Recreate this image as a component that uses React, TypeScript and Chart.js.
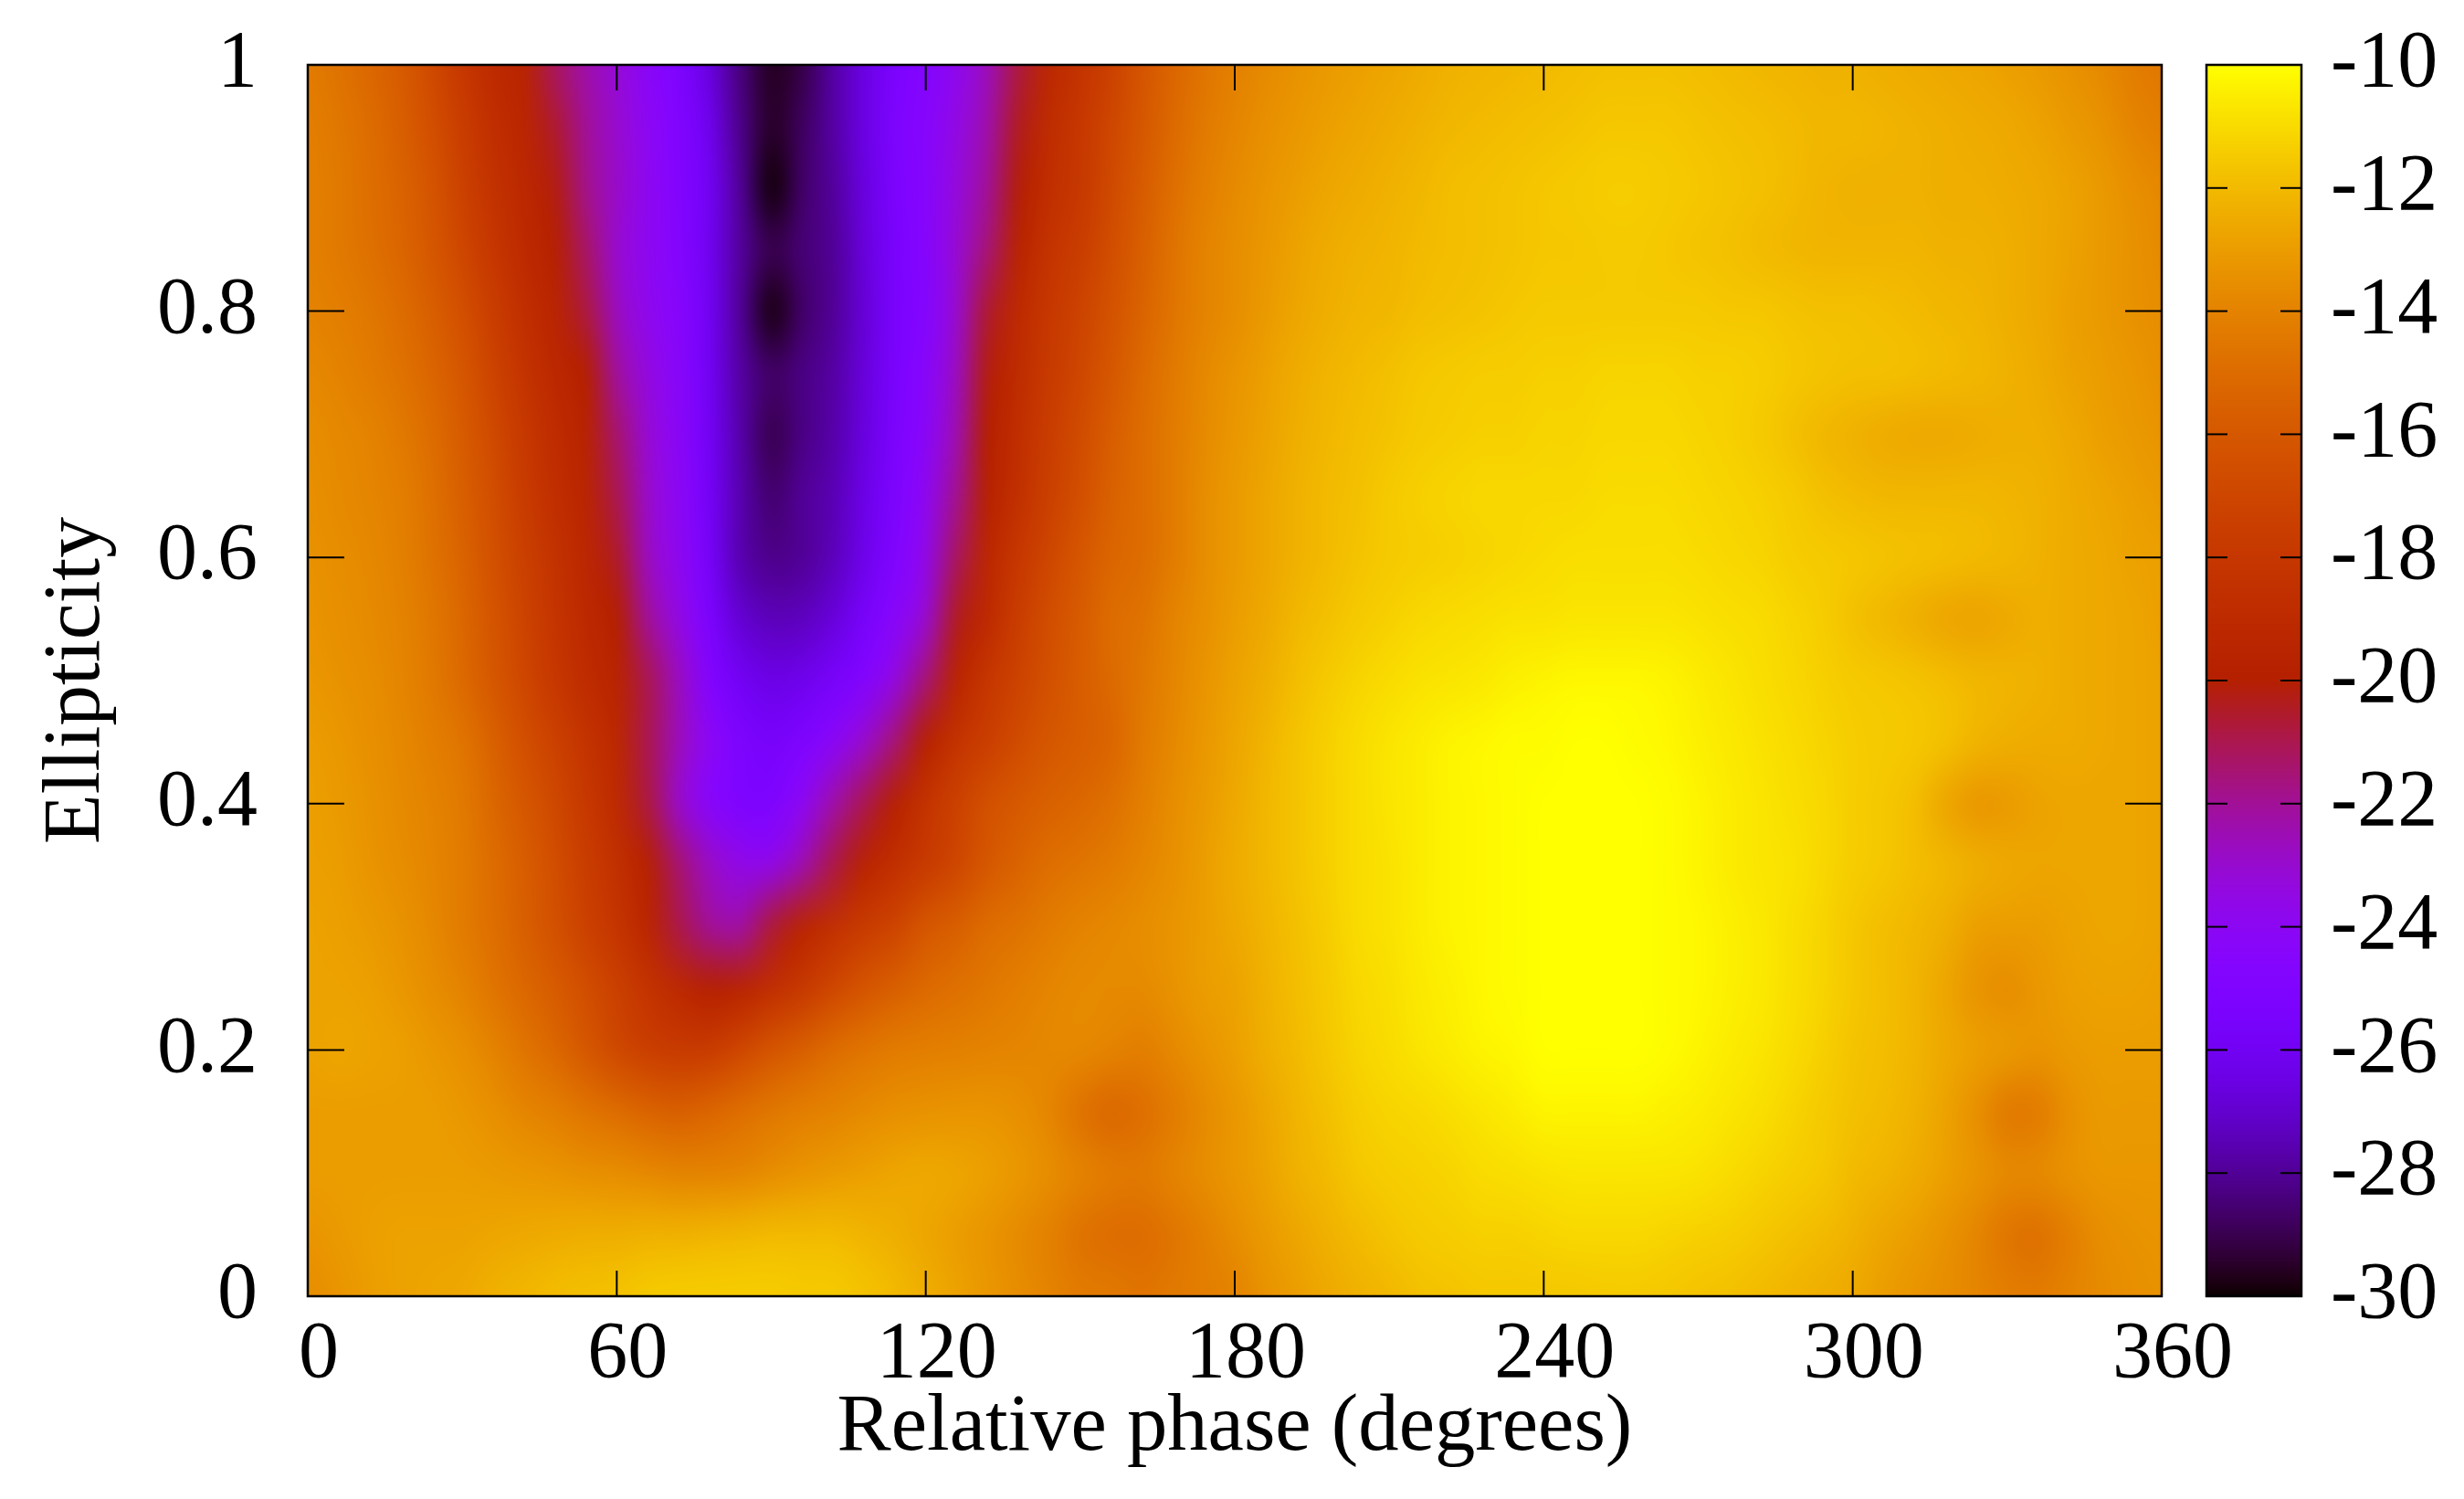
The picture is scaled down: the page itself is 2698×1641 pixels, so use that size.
import React, { useEffect, useRef } from 'react'
import { Chart, registerables } from 'chart.js'
import type { Plugin } from 'chart.js'

Chart.register(...registerables)

const phases = [
  0, 6, 12, 18, 24, 30, 36, 42, 48, 54, 60, 66, 72, 78, 84, 90, 96, 102, 108, 114,
  120, 126, 132, 138, 144, 150, 156, 162, 168, 174, 180, 186, 192, 198, 204, 210, 216, 222, 228, 234,
  240, 246, 252, 258, 264, 270, 276, 282, 288, 294, 300, 306, 312, 318, 324, 330, 336, 342, 348, 354, 360,
]
const ellipticities = [1, 0.95, 0.9, 0.85, 0.8, 0.75, 0.7, 0.65, 0.6, 0.55, 0.5, 0.45, 0.4, 0.35, 0.3, 0.25, 0.2, 0.15, 0.1, 0.05, 0]

// signal level per phase, one list per ellipticity
const e100 = [-14.3, -14.7, -15.2, -15.8, -16.8, -18, -19, -19.6, -21.2, -22.3, -23.2, -24.2, -25.1, -26.6, -28.4, -29.6, -29.1, -27.8, -26.5, -25.3, -24.7, -23.8, -22.6, -20.8, -19.2, -18.3, -17.3, -16.2, -15.3, -14.6, -14.1, -13.7, -13.4, -13.1, -12.9, -12.7, -12.5, -12.3, -12.2, -12.1, -12, -11.9, -11.8, -11.8, -11.8, -11.9, -12, -12.1, -12.2, -12.3, -12.3, -12.4, -12.5, -12.6, -12.7, -12.9, -13.1, -13.4, -13.7, -14.2, -14.5]
const e095 = [-14.2, -14.5, -15, -15.6, -16.5, -17.6, -18.7, -19.4, -20.6, -22, -23, -24, -24.9, -26.2, -28.2, -29.5, -28.8, -27.8, -26.5, -25.2, -24.5, -23.5, -22.3, -20.4, -18.9, -18, -17, -16, -15.1, -14.4, -13.9, -13.5, -13.2, -12.9, -12.7, -12.5, -12.3, -12.1, -12, -11.9, -11.8, -11.7, -11.6, -11.6, -11.6, -11.7, -11.8, -11.9, -12, -12.1, -12.1, -12.2, -12.3, -12.4, -12.5, -12.6, -12.8, -13.1, -13.4, -13.9, -14.2]
const e090 = [-14.1, -14.4, -14.9, -15.4, -16.2, -17.3, -18.4, -19.2, -20.2, -21.8, -22.9, -23.9, -24.8, -26, -28, -29.9, -28.7, -27.9, -26.6, -25.3, -24.5, -23.3, -22, -20.1, -18.7, -17.9, -16.8, -15.8, -14.9, -14.2, -13.7, -13.3, -13, -12.7, -12.5, -12.3, -12.1, -11.9, -11.8, -11.7, -11.6, -11.5, -11.4, -11.4, -11.5, -11.6, -11.7, -11.8, -12, -12.2, -12.3, -12.3, -12.3, -12.4, -12.4, -12.5, -12.6, -12.8, -13.1, -13.5, -13.8]
const e085 = [-14.1, -14.4, -14.8, -15.3, -16, -17, -18.1, -19, -19.9, -21.3, -23, -23.9, -24.7, -26.1, -27.9, -29, -28.5, -28, -26.7, -25.4, -24.6, -23.1, -21.5, -19.6, -18.3, -17.6, -16.6, -15.6, -14.7, -14, -13.6, -13.2, -12.8, -12.5, -12.3, -12.2, -12, -11.9, -11.8, -11.7, -11.6, -11.6, -11.5, -11.5, -11.6, -11.7, -11.8, -12, -12.1, -12.2, -12.2, -12.2, -12.2, -12.3, -12.3, -12.4, -12.6, -12.8, -13.1, -13.4, -13.7]
const e080 = [-14, -14.2, -14.5, -15, -15.6, -16.5, -17.6, -18.7, -19.5, -20.8, -22.7, -23.8, -24.5, -26, -28, -29.8, -28.7, -28, -26.8, -25.4, -24.7, -23, -20.6, -19, -18, -17.2, -16.3, -15.4, -14.6, -14, -13.6, -13.1, -12.7, -12.4, -12.2, -12.1, -11.9, -11.8, -11.7, -11.6, -11.5, -11.5, -11.5, -11.5, -11.5, -11.5, -11.6, -11.6, -11.7, -11.8, -11.8, -11.9, -12, -12.1, -12.2, -12.4, -12.6, -12.9, -13.1, -13.4, -13.6]
const e075 = [-13.8, -14, -14.3, -14.7, -15.3, -16.1, -17.2, -18.3, -19.2, -20, -22.1, -23.4, -24.4, -26, -27.8, -28.7, -28.3, -27.8, -26.7, -25.4, -24.4, -22.7, -20.2, -18.9, -17.8, -17, -16, -15.1, -14.4, -13.8, -13.3, -12.9, -12.5, -12.2, -12, -11.8, -11.6, -11.5, -11.4, -11.4, -11.3, -11.3, -11.2, -11.2, -11.2, -11.3, -11.3, -11.4, -11.6, -11.7, -11.8, -11.8, -11.9, -12, -12.1, -12.3, -12.5, -12.8, -13, -13.2, -13.5]
const e070 = [-13.6, -13.8, -14, -14.4, -15, -15.8, -16.8, -17.9, -18.9, -19.7, -21.4, -23.1, -24.2, -25.9, -27.7, -29, -28.3, -27.7, -26.6, -25.3, -24.2, -22.4, -20, -18.7, -17.6, -16.7, -15.7, -15, -14.3, -13.7, -13.2, -12.8, -12.4, -12.1, -11.9, -11.7, -11.5, -11.4, -11.3, -11.3, -11.2, -11.2, -11.1, -11.1, -11.1, -11.2, -11.3, -11.5, -11.8, -12.1, -12.3, -12.5, -12.6, -12.6, -12.5, -12.4, -12.4, -12.6, -12.9, -13.1, -13.3]
const e065 = [-13.5, -13.7, -13.9, -14.2, -14.8, -15.6, -16.6, -17.7, -18.7, -19.5, -21, -22.9, -24.1, -25.8, -27.6, -28.6, -28, -27.5, -26.4, -25.2, -23.9, -21.9, -19.8, -18.5, -17.4, -16.5, -15.5, -15, -14.3, -13.6, -13.1, -12.7, -12.3, -12, -11.8, -11.5, -11.3, -11.2, -11.1, -11.1, -11.1, -11.1, -11, -11, -11, -11.1, -11.2, -11.3, -11.5, -11.8, -12, -12.1, -12.1, -12.1, -12.1, -12.2, -12.3, -12.5, -12.7, -12.9, -13.1]
const e060 = [-13.4, -13.6, -13.8, -14.1, -14.7, -15.4, -16.4, -17.4, -18.4, -19.3, -20.5, -22.7, -23.9, -25.7, -27.6, -28.2, -28, -27.4, -26.3, -25, -23.6, -21.2, -19.3, -18, -17, -16.1, -15.3, -15, -14.3, -13.6, -13.1, -12.7, -12.3, -12, -11.7, -11.5, -11.4, -11.3, -11.2, -11.1, -11, -10.9, -10.9, -10.9, -10.9, -11, -11.1, -11.2, -11.4, -11.5, -11.6, -11.7, -11.8, -11.9, -12, -12.1, -12.3, -12.5, -12.6, -12.8, -12.9]
const e055 = [-13.3, -13.5, -13.7, -14, -14.5, -15.2, -16.2, -17.2, -18.2, -19.1, -20, -22, -23.5, -25.3, -26.9, -27.4, -27.3, -26.7, -25.6, -24.4, -23, -20.4, -19, -17.6, -16.6, -15.8, -15, -14.7, -14, -13.5, -13, -12.6, -12.1, -11.8, -11.5, -11.3, -11.1, -11, -10.9, -10.8, -10.8, -10.7, -10.7, -10.7, -10.7, -10.8, -10.9, -11, -11.2, -11.4, -11.8, -12.1, -12.4, -12.7, -12.8, -12.6, -12.4, -12.5, -12.6, -12.7, -12.9]
const e050 = [-13.2, -13.4, -13.6, -13.9, -14.4, -15.1, -16, -17, -18, -18.9, -19.6, -21, -22.7, -24.8, -25.9, -26.4, -26.2, -25.6, -24.8, -23.4, -21.5, -19.5, -18.1, -17.2, -16.4, -15.7, -15.1, -14.5, -13.9, -13.3, -12.8, -12.4, -11.9, -11.5, -11.2, -11, -10.8, -10.7, -10.6, -10.4, -10.3, -10.2, -10.2, -10.2, -10.3, -10.5, -10.7, -10.9, -11.1, -11.3, -11.5, -11.6, -11.7, -11.9, -12.1, -12.2, -12.3, -12.5, -12.6, -12.7, -12.8]
const e045 = [-13, -13.2, -13.5, -13.8, -14.2, -14.6, -15.5, -16.5, -17.3, -18.3, -19.2, -21, -22.6, -24.1, -25.2, -25.6, -25.1, -24.2, -23, -21.5, -19.8, -18.3, -17.5, -16.7, -16, -15.7, -15.3, -14.4, -13.8, -13.2, -12.7, -12.2, -11.7, -11.3, -11, -10.7, -10.5, -10.3, -10.2, -10.1, -10.1, -10, -10, -10.1, -10.2, -10.4, -10.6, -10.8, -11, -11.2, -11.4, -11.5, -11.6, -11.8, -12.2, -12.4, -12.5, -12.5, -12.6, -12.7, -12.8]
const e040 = [-12.9, -13.1, -13.4, -13.7, -14, -14.4, -15.2, -16, -16.9, -17.9, -19, -20.8, -22.9, -24.4, -25.1, -25.1, -24, -22.3, -21, -19.8, -18.3, -17.3, -16.4, -15.9, -15.5, -15.2, -14.8, -14.2, -13.6, -13.1, -12.6, -12.1, -11.7, -11.3, -11, -10.7, -10.5, -10.3, -10.2, -10.1, -10, -10, -10, -10, -10.1, -10.3, -10.5, -10.7, -10.9, -11.1, -11.4, -11.6, -11.9, -12.7, -13.2, -13.1, -12.8, -12.7, -12.7, -12.7, -12.8]
const e035 = [-12.9, -13, -13.3, -13.6, -13.9, -14.3, -15, -15.7, -16.6, -17.6, -18.5, -19.8, -21.4, -22.8, -23.6, -23.6, -22.4, -20.9, -19.6, -18.6, -17.8, -17, -16, -15.4, -14.9, -14.6, -14.3, -13.9, -13.5, -13, -12.5, -12.1, -11.7, -11.3, -11, -10.8, -10.5, -10.3, -10.2, -10.1, -10, -10, -10, -10, -10.1, -10.3, -10.5, -10.7, -10.8, -11.1, -11.4, -11.6, -11.9, -12.1, -12.4, -12.6, -12.7, -12.7, -12.7, -12.7, -12.8]
const e030 = [-12.8, -12.9, -13.1, -13.4, -13.8, -14.3, -14.9, -15.6, -16.4, -17.3, -18.2, -19.4, -20.9, -22, -22.2, -20.7, -19.5, -18.5, -17.7, -17.1, -16.1, -15.6, -15, -14.7, -14.3, -14, -13.8, -13.6, -13.3, -13, -12.6, -12.2, -11.8, -11.4, -11, -10.8, -10.5, -10.3, -10.2, -10.1, -10, -10, -10, -10, -10.1, -10.2, -10.4, -10.6, -10.9, -11.2, -11.6, -11.9, -12.1, -12.4, -12.9, -13, -13, -12.8, -12.7, -12.7, -12.8]
const e025 = [-12.8, -12.8, -12.9, -13.2, -13.6, -14, -14.6, -15.2, -15.8, -16.6, -17.4, -18.3, -19.1, -19.9, -19.6, -18.7, -17.9, -17, -16.2, -15.6, -15.1, -14.8, -14.5, -14.2, -13.9, -13.7, -13.7, -13.7, -13.4, -13, -12.8, -12.3, -11.9, -11.5, -11.1, -10.9, -10.6, -10.4, -10.2, -10.1, -10, -10, -10, -10, -10.1, -10.2, -10.4, -10.6, -10.9, -11.2, -11.6, -11.9, -12.2, -12.7, -13.3, -13.6, -13.2, -12.9, -12.8, -12.8, -12.9]
const e020 = [-12.8, -12.7, -12.8, -12.9, -13.2, -13.5, -14, -14.6, -15.2, -16, -16.9, -17.5, -17.8, -17.7, -17, -16.2, -15.6, -15, -14.6, -14.3, -14.2, -14.1, -14, -13.9, -13.8, -13.8, -14, -14.2, -13.8, -13.3, -12.9, -12.4, -12, -11.6, -11.2, -11, -10.7, -10.5, -10.3, -10.2, -10, -10, -10, -10, -10.1, -10.3, -10.5, -10.7, -11, -11.3, -11.7, -11.9, -12.2, -12.6, -12.9, -13.1, -13.3, -13.1, -13, -13, -13]
const e015 = [-13, -13, -13, -13, -13, -13.2, -13.5, -13.9, -14.2, -14.6, -15, -15.4, -15.6, -15.3, -14.9, -14.5, -14.2, -14, -13.7, -13.5, -13.4, -13.3, -13.3, -13.5, -13.9, -14.7, -15.2, -14.9, -14.3, -13.7, -13.2, -12.7, -12.2, -11.8, -11.4, -11.2, -11.1, -10.9, -10.7, -10.5, -10.3, -10.3, -10.3, -10.3, -10.4, -10.5, -10.7, -10.9, -11.2, -11.5, -11.8, -12, -12.3, -12.8, -13.5, -14.4, -14.3, -13.5, -13.1, -13.1, -13.1]
const e010 = [-13, -13, -13, -13, -13, -13, -13.1, -13.2, -13.3, -13.5, -13.6, -13.8, -14, -14, -13.9, -13.6, -13.3, -13.1, -12.9, -12.7, -12.6, -12.7, -12.9, -13.2, -13.6, -14, -14.3, -14.4, -14, -13.6, -13.2, -12.8, -12.3, -12, -11.6, -11.4, -11.3, -11.2, -11, -10.9, -10.8, -10.7, -10.7, -10.7, -10.7, -10.8, -11, -11.2, -11.4, -11.6, -12, -12.2, -12.5, -12.9, -13.3, -13.7, -13.7, -13.4, -13.2, -13.2, -13.2]
const e005 = [-13.3, -13.1, -12.9, -12.8, -12.8, -12.8, -12.7, -12.6, -12.5, -12.4, -12.4, -12.3, -12.3, -12.2, -12.1, -12, -12, -12, -12.2, -12.4, -12.7, -13, -13.3, -13.7, -14.1, -14.7, -15, -15, -14.6, -14.1, -13.6, -13.1, -12.7, -12.3, -12, -11.7, -11.5, -11.4, -11.3, -11.3, -11.2, -11.1, -11.1, -11.1, -11.2, -11.3, -11.4, -11.6, -11.8, -12, -12.3, -12.7, -13, -13.4, -13.9, -14.6, -14.8, -14.2, -13.6, -13.4, -13.3]
const e000 = [-13.6, -13.3, -13, -12.8, -12.7, -12.6, -12.3, -12.1, -11.9, -11.8, -11.7, -11.5, -11.4, -11.4, -11.4, -11.4, -11.5, -11.5, -11.7, -12, -12.4, -12.8, -13.2, -13.6, -14, -14.3, -14.4, -14.6, -14.4, -14.2, -14, -13.4, -13, -12.6, -12.3, -12.1, -11.8, -11.7, -11.6, -11.6, -11.6, -11.6, -11.5, -11.5, -11.6, -11.7, -11.8, -12, -12.2, -12.4, -12.6, -13, -13.3, -13.6, -13.9, -14.2, -14.3, -14, -13.7, -13.5, -13.4]
const levels = [e100, e095, e090, e085, e080, e075, e070, e065, e060, e055, e050, e045, e040, e035, e030, e025, e020, e015, e010, e005, e000]

const phaseTicks = [0, 60, 120, 180, 240, 300, 360]
const ellipticityTicks = [0, 0.2, 0.4, 0.6, 0.8, 1]
const levelTicks = [-30, -28, -26, -24, -22, -20, -18, -16, -14, -12, -10]

const FONT = '"Liberation Serif"'

// gnuplot's default pm3d palette (rgbformulae 7,5,15)
function palette(v: number): [number, number, number] {
  const t = Math.min(1, Math.max(0, (v + 30) / 20))
  return [
    Math.round(255 * Math.sqrt(t)),
    Math.round(255 * t * t * t),
    Math.round(255 * Math.max(0, Math.sin(2 * Math.PI * t))),
  ]
}

const heatmapPlugin: Plugin<'scatter'> = {
  id: 'heatmap',
  beforeDatasetsDraw(chart) {
    const { ctx, scales } = chart
    const x = scales.x
    const y = scales.y
    const off = document.createElement('canvas')
    off.width = phases.length
    off.height = ellipticities.length
    const octx = off.getContext('2d')!
    const img = octx.createImageData(off.width, off.height)
    levels.forEach((row, j) => {
      row.forEach((v, i) => {
        const [r, g, b] = palette(v)
        const k = (j * off.width + i) * 4
        img.data[k] = r
        img.data[k + 1] = g
        img.data[k + 2] = b
        img.data[k + 3] = 255
      })
    })
    octx.putImageData(img, 0, 0)

    const left = x.getPixelForValue(phases[0])
    const right = x.getPixelForValue(phases[phases.length - 1])
    const top = y.getPixelForValue(ellipticities[0])
    const bottom = y.getPixelForValue(ellipticities[ellipticities.length - 1])
    ctx.save()
    ctx.imageSmoothingEnabled = true
    ctx.imageSmoothingQuality = 'high'
    // half a cell in, so that the first and last nodes land on the plot edges
    ctx.drawImage(off, 0.5, 0.5, off.width - 1, off.height - 1, left, top, right - left, bottom - top)
    ctx.restore()
  },
  afterDatasetsDraw(chart) {
    const { ctx, scales, chartArea } = chart
    const { left, right, top, bottom } = chartArea
    const cb = scales.cb
    const cbLeft = 2416
    const cbRight = 2520

    // colour box
    for (let py = Math.floor(top); py < bottom; py++) {
      const [r, g, b] = palette(cb.getValueForPixel(py + 0.5) as number)
      ctx.fillStyle = `rgb(${r},${g},${b})`
      ctx.fillRect(cbLeft, py, cbRight - cbLeft, 1)
    }

    ctx.save()
    ctx.strokeStyle = '#000'
    ctx.lineWidth = 2
    const line = (x0: number, y0: number, x1: number, y1: number) => {
      ctx.beginPath()
      ctx.moveTo(x0, y0)
      ctx.lineTo(x1, y1)
      ctx.stroke()
    }
    phaseTicks.slice(1, -1).forEach((v) => {
      const px = scales.x.getPixelForValue(v)
      line(px, bottom, px, bottom - 28)
      line(px, top, px, top + 28)
    })
    ellipticityTicks.slice(1, -1).forEach((v) => {
      const py = scales.y.getPixelForValue(v)
      line(left, py, left + 40, py)
      line(right, py, right - 40, py)
    })
    levelTicks.slice(1, -1).forEach((v) => {
      const py = cb.getPixelForValue(v)
      line(cbLeft, py, cbLeft + 23, py)
      line(cbRight, py, cbRight - 23, py)
    })
    ctx.lineWidth = 2.5
    ctx.strokeRect(left, top, right - left, bottom - top)
    ctx.strokeRect(cbLeft, top, cbRight - cbLeft, bottom - top)
    ctx.restore()
  },
}

export default function App() {
  const canvasRef = useRef<HTMLCanvasElement>(null)

  useEffect(() => {
    if (!canvasRef.current) return

    const points = levels.flatMap((row, j) =>
      row.map((v, i) => ({ x: phases[i], y: ellipticities[j], v })),
    )
    const tickFont = { family: FONT, size: 88 }
    // the axes keep fixed boxes so the plot stays where it is in the reference
    const fixBox = (s: any, box: { width?: number; height?: number }) => {
      if (box.width) s.width = box.width
      if (box.height) s.height = box.height
      s.paddingTop = 0
      s.paddingBottom = 0
      s.paddingLeft = 0
      s.paddingRight = 0
    }

    const chart = new Chart(canvasRef.current, {
      type: 'scatter',
      data: { datasets: [{ data: points, pointRadius: 0, showLine: false }] },
      options: {
        animation: false,
        responsive: false,
        devicePixelRatio: 1,
        layout: { autoPadding: false, padding: { top: 71 } },
        plugins: { legend: { display: false }, tooltip: { enabled: false } },
        scales: {
          x: {
            type: 'linear',
            min: 0,
            max: 360,
            afterFit: (s) => fixBox(s, { height: 222 }),
            afterBuildTicks: (s) => { s.ticks = phaseTicks.map((value) => ({ value })) },
            grid: { display: false, drawTicks: false },
            border: { display: false },
            ticks: {
              font: tickFont,
              color: '#000',
              padding: 12,
              labelOffset: 12,
              maxRotation: 0,
              autoSkip: false,
              callback: (v) => String(v),
            },
            title: {
              display: true,
              text: 'Relative phase (degrees)',
              font: { family: FONT, size: 88.6 },
              color: '#000',
              padding: { top: 0, bottom: 24 },
            },
          },
          y: {
            type: 'linear',
            min: 0,
            max: 1,
            afterFit: (s) => fixBox(s, { width: 337 }),
            afterBuildTicks: (s) => { s.ticks = ellipticityTicks.map((value) => ({ value })) },
            grid: { display: false, drawTicks: false },
            border: { display: false },
            ticks: {
              font: tickFont,
              color: '#000',
              padding: 55,
              autoSkip: false,
              callback: (v) => String(v),
            },
            title: {
              display: true,
              text: 'Ellipticity',
              font: { family: FONT, size: 89.5 },
              color: '#000',
              padding: { top: 31, bottom: 0 },
            },
          },
          cb: {
            type: 'linear',
            axis: 'y',
            position: 'right',
            min: -30,
            max: -10,
            afterFit: (s) => fixBox(s, { width: 331 }),
            afterBuildTicks: (s) => { s.ticks = levelTicks.map((value) => ({ value })) },
            grid: { display: false, drawTicks: false },
            border: { display: false },
            ticks: {
              font: tickFont,
              color: '#000',
              padding: 185,
              autoSkip: false,
              callback: (v) => String(v),
            },
          },
        },
      },
      plugins: [heatmapPlugin],
    })

    return () => chart.destroy()
  }, [])

  return (
    <canvas
      ref={canvasRef}
      width={2698}
      height={1641}
      style={{ position: 'absolute', left: 0, top: 0, display: 'block' }}
    />
  )
}
